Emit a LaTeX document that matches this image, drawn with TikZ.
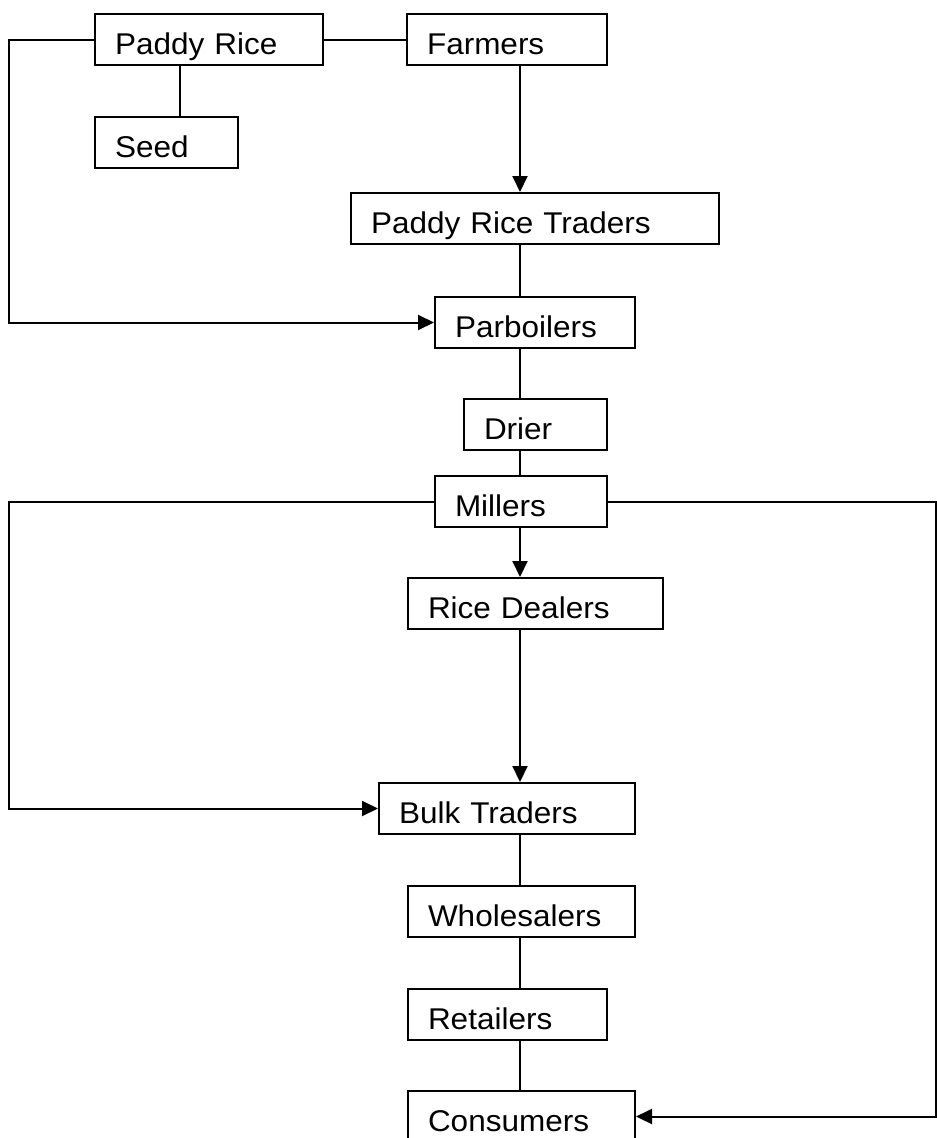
\documentclass[tikz,border=0pt]{standalone}
\usepackage{fontspec}
\setmainfont{Liberation Sans}[FakeStretch=1.05]
\usetikzlibrary{arrows.meta}
\usetikzlibrary{calc}
\tikzset{
  rcbox/.style={
    draw, line width=2pt, anchor=north west, align=left,
    font=\fontsize{30}{36}\selectfont,
    inner xsep=20pt, inner ysep=0pt, text height=40pt, text depth=11pt,
    text width=#1},
  rcline/.style={draw, line width=2pt},
  rcarrow/.style={-{Triangle[length=16pt, width=15pt]}, draw, line width=2pt},
}

\begin{document}
\begin{tikzpicture}[x=1pt, y=-1pt]

\useasboundingbox (0, 0) rectangle (937, 1138);

% Rails for the connectors.
\coordinate (spine) at (520, 0);
\coordinate (seedcol) at (180, 0);
\coordinate (leftrail) at (9, 0);
\coordinate (rightrail) at (936, 0);

% Paddy side.
\node[rcbox=188pt] (paddy) at (94, 13) {Paddy Rice};
\node[rcbox=160pt] (farmers) at (406, 13) {Farmers};
\node[rcbox=103pt] (seed) at (94, 116) {Seed};
\node[rcbox=328pt] (traders) at (350, 192) {Paddy Rice Traders};
\node[rcbox=160pt] (parboil) at (434, 296) {Parboilers};
\node[rcbox=103pt] (drier) at (463, 398) {Drier};
\node[rcbox=132pt] (millers) at (434, 475) {Millers};

% Rice side.
\node[rcbox=215pt] (dealers) at (407, 577) {Rice Dealers};
\node[rcbox=216pt] (bulk) at (378, 782) {Bulk Traders};
\node[rcbox=187pt] (wholesale) at (407, 885) {Wholesalers};
\node[rcbox=159pt] (retail) at (407, 988) {Retailers};
\node[rcbox=187pt] (consumers) at (407, 1090) {Consumers};

% Connectors.
\draw[rcline] (paddy.east) -- (farmers.west);
\draw[rcline] (paddy.south -| seedcol) -- (seed.north -| seedcol);
\draw[rcarrow] (paddy.west) -- (paddy.west -| leftrail) |- (parboil.west);
\draw[rcarrow] (farmers.south -| spine) -- (traders.north -| spine);
\draw[rcline] (traders.south -| spine) -- (parboil.north -| spine);
\draw[rcline] (parboil.south -| spine) -- (drier.north -| spine);
\draw[rcline] (drier.south -| spine) -- (millers.north -| spine);
\draw[rcarrow] (millers.west) -- (millers.west -| leftrail) |- (bulk.west);
\draw[rcarrow] (millers.east) -- (millers.east -| rightrail) |- (consumers.east);
\draw[rcarrow] (millers.south -| spine) -- (dealers.north -| spine);
\draw[rcarrow] (dealers.south -| spine) -- (bulk.north -| spine);
\draw[rcline] (bulk.south -| spine) -- (wholesale.north -| spine);
\draw[rcline] (wholesale.south -| spine) -- (retail.north -| spine);
\draw[rcline] (retail.south -| spine) -- (consumers.north -| spine);

\end{tikzpicture}
\end{document}
